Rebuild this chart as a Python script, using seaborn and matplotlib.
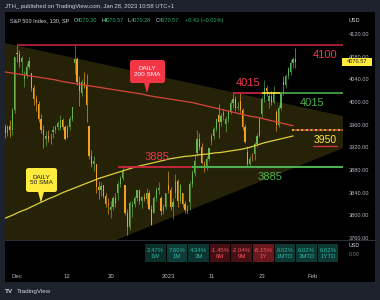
import matplotlib
matplotlib.use("Agg")
import matplotlib.pyplot as plt
import seaborn as sns
import numpy as np
import pandas as pd
from matplotlib.patches import Rectangle, FancyBboxPatch, Polygon

# ---------------- data (130-minute bars, S&P 500, Nov 29 2022 - Jan 27 2023) -------------
opens = [3964, 3955, 3945, 3957, 3950, 3985, 4087, 4085, 4070, 4040, 4048, 4062,
         4052, 4025, 4005, 3996, 3970, 3950, 3934, 3940, 3935, 3947, 3950, 3956,
         3954, 3968, 3955, 3939, 3955, 3970, 4069, 4075, 4035, 4015, 4035, 4030,
         3958, 3905, 3890, 3890, 3850, 3845, 3853, 3835, 3820, 3810, 3815, 3830,
         3839, 3855, 3866, 3853, 3805, 3780, 3815, 3820, 3830, 3843, 3825, 3832,
         3829, 3840, 3812, 3805, 3830, 3845, 3830, 3808, 3815, 3853, 3845, 3815,
         3840, 3860, 3825, 3840, 3820, 3810, 3823, 3855, 3875, 3910, 3935, 3920,
         3888, 3885, 3900, 3932, 3940, 3952, 3977, 3965, 3975, 3961, 3970, 3982,
         3999, 4005, 3990, 4002, 3985, 3955, 3911, 3890, 3900, 3909, 3925, 3940,
         3979, 4005, 4025, 4001, 4010, 4000, 3982, 3960, 3990, 4036, 4030, 4045,
         4053, 4068, 4075]
highs = [3976, 3962, 3960, 3968, 3990, 4080, 4100, 4092, 4082, 4055, 4068, 4080,
         4052, 4030, 4012, 4001, 3978, 3960, 3948, 3950, 3945, 3958, 3960, 3966,
         3977, 3972, 3960, 3960, 3975, 3991, 4101, 4080, 4045, 4040, 4053, 4050,
         3958, 3915, 3905, 3890, 3860, 3858, 3854, 3840, 3830, 3825, 3835, 3839,
         3860, 3870, 3889, 3853, 3812, 3825, 3825, 3835, 3845, 3846, 3835, 3840,
         3849, 3845, 3818, 3835, 3850, 3858, 3835, 3820, 3839, 3878, 3850, 3830,
         3873, 3865, 3855, 3840, 3825, 3818, 3860, 3880, 3906, 3951, 3945, 3928,
         3895, 3905, 3919, 3945, 3955, 3970, 3997, 3980, 3988, 3975, 3985, 4003,
         4015, 4010, 4000, 4015, 3990, 3962, 3922, 3905, 3910, 3930, 3945, 3973,
         4010, 4039, 4030, 4015, 4020, 4028, 3985, 3995, 4020, 4045, 4050, 4061,
         4075, 4080, 4095]
lows = [3950, 3937, 3940, 3938, 3942, 3980, 4070, 4062, 4050, 4026, 4042, 4058,
        4020, 3995, 3984, 3965, 3945, 3918, 3922, 3930, 3925, 3936, 3945, 3950,
        3950, 3950, 3933, 3937, 3950, 3966, 4050, 4030, 3993, 4010, 4025, 3965,
        3900, 3885, 3879, 3840, 3828, 3835, 3830, 3815, 3803, 3795, 3810, 3815,
        3827, 3850, 3862, 3800, 3765, 3775, 3797, 3815, 3826, 3820, 3813, 3825,
        3820, 3810, 3783, 3805, 3825, 3838, 3800, 3802, 3812, 3840, 3810, 3794,
        3830, 3815, 3822, 3815, 3805, 3802, 3809, 3850, 3870, 3905, 3915, 3890,
        3877, 3880, 3895, 3924, 3935, 3948, 3937, 3958, 3968, 3947, 3965, 3978,
        3990, 3984, 3985, 3980, 3950, 3928, 3885, 3886, 3895, 3897, 3920, 3938,
        3971, 4000, 4010, 3990, 3995, 3998, 3949, 3955, 3985, 4013, 4025, 4040,
        4048, 4060, 4060]
closes = [3955, 3945, 3958, 3950, 3985, 4080, 4085, 4070, 4077, 4048, 4062, 4072,
          4025, 4005, 3999, 3970, 3950, 3941, 3940, 3935, 3934, 3950, 3956, 3963,
          3968, 3955, 3934, 3955, 3970, 3991, 4075, 4035, 4020, 4035, 4030, 3995,
          3905, 3890, 3896, 3850, 3845, 3852, 3835, 3820, 3818, 3815, 3830, 3822,
          3855, 3866, 3878, 3805, 3780, 3822, 3820, 3830, 3845, 3825, 3832, 3829,
          3840, 3812, 3783, 3830, 3845, 3849, 3808, 3815, 3840, 3845, 3815, 3824,
          3860, 3825, 3853, 3820, 3810, 3808, 3855, 3875, 3895, 3935, 3920, 3892,
          3885, 3900, 3919, 3940, 3952, 3970, 3965, 3975, 3983, 3970, 3982, 3999,
          4005, 3990, 3991, 3985, 3955, 3929, 3890, 3900, 3899, 3925, 3940, 3973,
          4005, 4025, 4020, 4010, 4000, 4017, 3960, 3990, 4016, 4030, 4045, 4060,
          4068, 4075, 4071]

# moving averages, one value per trading day (read at the middle bar of each day)
sma200 = [4053, 4051, 4049, 4047, 4045, 4043, 4041, 4039, 4036, 4034, 4032, 4030,
          4028, 4026, 4024, 4022, 4020, 4018, 4016, 4014, 4011, 4009, 4007, 4005,
          4003, 4001, 3999, 3996, 3993, 3990, 3987, 3984, 3981, 3978, 3975, 3973,
          3970, 3967, 3964, 3961, 3958]
sma50 = [3795, 3800, 3806, 3811, 3817, 3823, 3829, 3834, 3840, 3845, 3850, 3855,
         3860, 3865, 3869, 3873, 3877, 3881, 3885, 3888, 3891, 3894, 3897, 3900,
         3902, 3904, 3905, 3907, 3908, 3910, 3911, 3913, 3915, 3917, 3920, 3924,
         3928, 3931, 3934, 3937, 3940]

# horizontal levels (price)
level_top = 4100
level_4015 = 4015
level_3950 = 3950
level_3885 = 3885

# triangle (bar, price) corner points
tri_upper = [(1, 4104), (142, 3975)]
tri_lower = [(142, 3919), (1, 3677)]

# axes
price_ticks = [3760, 3800, 3840, 3880, 3920, 3960, 4000, 4040, 4080, 4120]
date_ticks = [6, 27, 45, 69, 87, 108, 129]
date_labels = ["Dec", "12", "20", "2023", "11", "23", "Feb"]

# performance table
periods = ["1W", "1M", "3M", "6M", "9M", "1Y", "1MTD", "3MTD", "1YTD"]
returns = [2.47, 7.60, 4.34, -1.45, -2.04, -8.15, 6.02, 6.02, 6.02]

ohlc_names = ["O", "H", "L", "C"]
ohlc_last = ["4070.30", "4070.57", "4070.28", "4070.57"]
last_change = "+0.43 (+0.01%)"
last_price = 4070.57

# ---------------- style ----------------
sns.set_style("dark")
plt.rcParams["font.family"] = ["Liberation Sans", "DejaVu Sans"]

BG = "#1e222d"
TXT = "#d1d4dc"
AX_TXT = "#b2b5be"
UP = "#4caf50"
DOWN = "#f0961e"
GREEN = "#4caf50"
YEL = "#ffeb3b"
LRED = "#d0263f"

W, H = 380, 300
fig = plt.figure(figsize=(W / 100, H / 100), dpi=100, facecolor=BG)

# background layer in pixel coordinates
bg = fig.add_axes([0, 0, 1, 1], zorder=0)
bg.set_xlim(0, W); bg.set_ylim(H, 0); bg.axis("off")
bg.add_patch(Rectangle((5, 12), 370, 270, color="black", lw=0))
bg.plot([5, 375], [240, 240], color="#2a2e39", lw=0.8)

def px_axes(x0, y0, x1, y1, z):
    return fig.add_axes([x0 / W, 1 - y1 / H, (x1 - x0) / W, (y1 - y0) / H], zorder=z)

ax = px_axes(5, 13, 343, 240, 1)
ax2 = px_axes(5, 240, 343, 270, 1)
for a in (ax, ax2):
    a.set_facecolor("none")
    a.grid(False)
    for s in a.spines.values():
        s.set_visible(False)

x_min, x_max = 1.0, 141.83
ax.set_xlim(x_min, x_max)
ax.set_ylim(3756.5, 4157)
ax2.set_xlim(x_min, x_max)
ax2.set_ylim(-1, 1)

# ---------------- candles ----------------
df = pd.DataFrame({"o": opens, "h": highs, "l": lows, "c": closes})
df["x"] = np.arange(len(df))
df["col"] = np.where(df["c"] >= df["o"], UP, DOWN)
ax.vlines(df["x"], df["l"], df["h"], colors=df["col"], lw=0.45, zorder=2)
body = (df["c"] - df["o"]).abs().clip(lower=1.2)
ax.bar(df["x"], body, bottom=df[["o", "c"]].min(axis=1), width=0.5,
       color=df["col"], lw=0, zorder=2)

# ---------------- moving averages ----------------
day_x = [3 * d + 1 for d in range(len(sma200))]
sns.lineplot(x=day_x, y=sma200, ax=ax, color="#d7263d", lw=0.9, zorder=3)
sns.lineplot(x=day_x, y=sma50, ax=ax, color="#d9cc3c", lw=0.9, zorder=3)

# ---------------- triangle ----------------
ax.add_patch(Polygon(tri_upper + tri_lower, closed=True, facecolor=YEL,
                     alpha=0.15, lw=0, zorder=4))

# ---------------- level lines ----------------
ax.hlines(level_top, 6, x_max, color=LRED, lw=1.1, zorder=5)
ax.hlines(level_4015, 96, 108, color=LRED, lw=1.2, zorder=5)
ax.hlines(level_4015, 108, 115.6, color=YEL, lw=1.2, zorder=5)
ax.hlines(level_4015, 115.6, x_max, color=GREEN, lw=1.2, zorder=5)
ax.hlines(level_3885, 48, 79, color=LRED, lw=1.3, zorder=5)
ax.hlines(level_3885, 79, x_max, color=GREEN, lw=1.5, zorder=5)
ax.hlines(level_3950, 120.6, x_max, color=YEL, lw=1.1, linestyles=(0, (1.5, 1.5)), zorder=5)
ax.hlines(level_3950, 120.6, x_max, color="#e0304a", lw=1.1, linestyles=(1.5, (1.5, 1.5)), zorder=5)

# price scale
ax.yaxis.tick_right()
ax.set_yticks(price_ticks, [f"{p:.2f}" for p in price_ticks])
ax.tick_params(axis="y", length=0, pad=4, labelsize=4.1, colors=AX_TXT)
ax.set_xticks([])

ax2.set_xticks(date_ticks, date_labels)
ax2.tick_params(axis="x", length=0, pad=3, labelsize=4.3, colors=AX_TXT)
ax2.set_yticks([])

# ---------------- overlay (texts, callouts, table) ----------------
ov = fig.add_axes([0, 0, 1, 1], zorder=6)
ov.set_xlim(0, W); ov.set_ylim(H, 0); ov.axis("off")
ov.patch.set_alpha(0)

ov.text(5, 6.5, "JTH_ published on TradingView.com, Jan 28, 2023 10:58 UTC+1",
        color=TXT, fontsize=4.2, va="center", ha="left")
ov.text(10, 20.5, "S&P 500 Index, 130, SP", color=TXT, fontsize=4.0, va="center")
leg_x = [74, 101, 128, 155.5]
for name, val, lx in zip(ohlc_names, ohlc_last, leg_x):
    ov.text(lx, 20.5, name, color=TXT, fontsize=4.0, va="center")
    ov.text(lx + 3.3, 20.5, val, color="#2fae6e", fontsize=4.0, va="center")
ov.text(185, 20.5, last_change, color="#2fae6e", fontsize=4.0, va="center")
ov.text(349, 20.5, "USD", color=TXT, fontsize=4.0, va="center")

# last price tag
tag_y = 13 + (4157 - last_price) / (4157 - 3756.5) * 227
ov.add_patch(Rectangle((342, tag_y - 4), 30, 8, color=YEL, lw=0))
ov.text(357, tag_y, f"{last_price:.2f}", color="#131722", fontsize=4.1,
        ha="center", va="center")

# level labels
ov.text(325, 55, "4100", color="#f0364e", fontsize=8, ha="center", va="center")
ov.text(248.5, 83.5, "4015", color="#f0364e", fontsize=8, ha="center", va="center")
ov.text(312.5, 103.5, "4015", color=GREEN, fontsize=8, ha="center", va="center")
ov.text(157, 157.5, "3885", color="#f0364e", fontsize=8, ha="center", va="center")
ov.text(270, 177, "3885", color=GREEN, fontsize=8, ha="center", va="center")
ov.text(325, 140, "3950", color=YEL, fontsize=7.5, ha="center", va="center")
ov.plot([313, 337], [146, 146], color="#e0304a", lw=0.9)

# callouts
ov.add_patch(FancyBboxPatch((130, 60), 35, 23, boxstyle="round,pad=0,rounding_size=2.5",
                            fc="#f23645", ec="none"))
ov.add_patch(Polygon([(144, 82.5), (150, 82.5), (147, 93)], closed=True, fc="#f23645", ec="none"))
ov.text(147.5, 71.5, "DAILY\n200 SMA", color="white", fontsize=4.6, ha="center",
        va="center", linespacing=1.05)
ov.add_patch(FancyBboxPatch((26, 168), 31, 24, boxstyle="round,pad=0,rounding_size=2.5",
                            fc=YEL, ec="none"))
ov.add_patch(Polygon([(38, 191.5), (44, 191.5), (41, 203)], closed=True, fc=YEL, ec="none"))
ov.text(41.5, 180, "DAILY\n50 SMA", color="#131722", fontsize=4.6, ha="center",
        va="center", linespacing=1.05)

# performance table
teal = np.array([38, 166, 154]) / 255
red = np.array([242, 54, 69]) / 255
for i, (p, r) in enumerate(zip(periods, returns)):
    x0 = 145 + i * 21.6
    s = min(abs(r) / 8.0, 1.0)
    if r >= 0:
        bgc = teal * (0.25 + 0.12 * s); tc = "#2bb5a0"
    else:
        bgc = red * (0.24 + 0.2 * s); tc = "#f7525f"
    ov.add_patch(Rectangle((x0, 244), 20.6, 18, color=tuple(bgc), lw=0))
    ov.text(x0 + 10.3, 250.3, f"{r:.2f}%", color=tc, fontsize=4.3, ha="center", va="center")
    ov.text(x0 + 10.3, 256.6, p, color=tc, fontsize=4.3, ha="center", va="center")

ov.text(348.5, 245.5, "USD", color=TXT, fontsize=3.9, va="center")
ov.text(348.5, 254.5, "0.00", color="#787b86", fontsize=3.9, va="center")

# footer
ov.text(5, 291.5, "TV", color=TXT, fontsize=4.6, fontweight="bold", va="center")
ov.text(17, 291.5, "TradingView", color=TXT, fontsize=4.5, va="center")

fig.savefig("out.png", dpi=100, facecolor=BG)
